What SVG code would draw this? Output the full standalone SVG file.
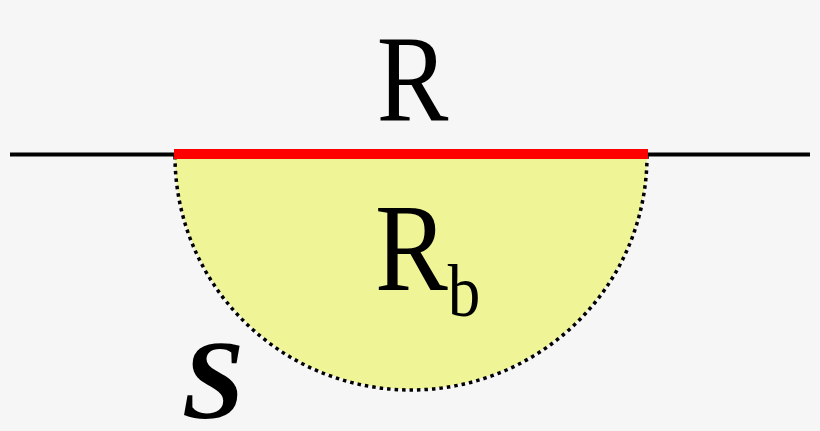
<svg xmlns="http://www.w3.org/2000/svg" width="820" height="431" viewBox="0 0 820 431">
<style>
text{font-family:"Liberation Serif","Times New Roman",serif;fill:#000}
</style>
<rect width="820" height="431" fill="#f6f6f6"/>
<g id="region">
<path d="M175,154 A236,235 0 0 0 647,154 Z" fill="#eff497"/>
<path d="M175,156 A236,234 0 0 0 647,156" fill="none" stroke="#000" stroke-width="3.5" stroke-dasharray="3.5,4"/>
</g>
<g id="connectors">
<line x1="10" y1="154.5" x2="810" y2="154.5" stroke="#000" stroke-width="4"/>
<line x1="174" y1="154" x2="648" y2="154" stroke="#ff0000" stroke-width="10"/>
</g>
<g id="label-R"><text font-family="Liberation Serif" x="412.5" y="120" font-size="122" text-anchor="middle" transform="translate(412.5,0) scale(0.88,1) translate(-412.5,0)">R</text></g>
<g id="label-Rb"><text font-family="Liberation Serif" x="375" y="290" font-size="124" transform="translate(375,0) scale(0.88,1) translate(-375,0)">R<tspan font-size="74" dy="26">b</tspan></text></g>
<g id="label-S"><text font-family="Liberation Serif" x="182" y="418" font-size="112" font-weight="bold" font-style="italic">S</text></g>
</svg>
